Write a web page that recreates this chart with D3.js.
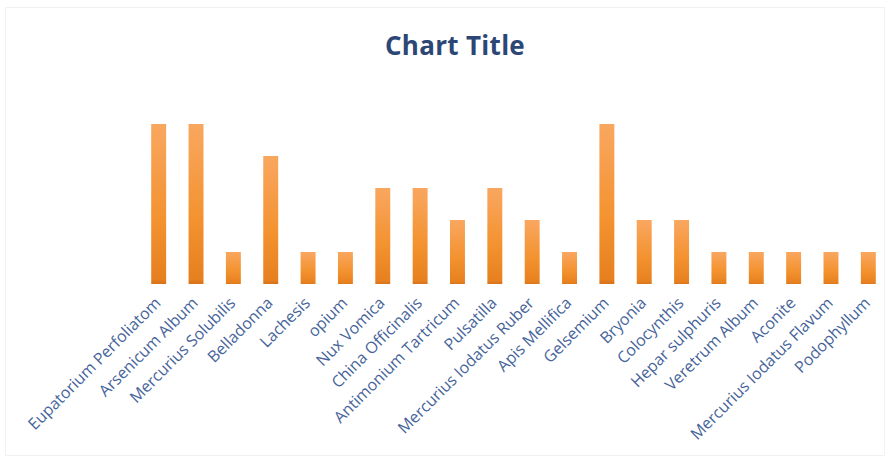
<!DOCTYPE html>
<html>
<head>
<meta charset="utf-8">
<script src="https://cdn.jsdelivr.net/npm/d3@7"></script>
<style>
  body { margin: 0; background: #fff; }
  .tick-label { font-family: "Open Sans", "Noto Sans", sans-serif; fill: #46649a; }
</style>
</head>
<body>
<div id="chart"></div>
<script>
// remedies and their counts
const remedies = [
    "Eupatorium Perfoliatom", "Arsenicum Album", "Mercurius Solubilis", "Belladonna",
    "Lachesis", "opium", "Nux Vomica", "China Officinalis", "Antimonium Tartricum",
    "Pulsatilla", "Mercurius Iodatus Ruber", "Apis Mellifica", "Gelsemium", "Bryonia",
    "Colocynthis", "Hepar sulphuris", "Veretrum Album", "Aconite",
    "Mercurius Iodatus Flavum", "Podophyllum"
];
const counts = [5, 5, 1, 4, 1, 1, 3, 3, 2, 3, 2, 1, 5, 2, 2, 1, 1, 1, 1, 1];
const chartTitle = "Chart Title";

const width = 887, height = 461;
const margin = {top: 124, right: 0, bottom: 177, left: 140};

const svg = d3.select("#chart")
    .append("svg")
    .attr("width", width)
    .attr("height", height);

// faint frame of the chart area
svg.append("rect")
    .attr("x", 5.5).attr("y", 7.5)
    .attr("width", 879).attr("height", 448)
    .attr("fill", "#fff")
    .attr("stroke", "#f2f2f2");

const defs = svg.append("defs");
const grad = defs.append("linearGradient")
    .attr("id", "barGrad")
    .attr("x1", 0).attr("y1", 0).attr("x2", 0).attr("y2", 1);
grad.append("stop").attr("offset", "0%").attr("stop-color", "#f9a760");
grad.append("stop").attr("offset", "60%").attr("stop-color", "#f3922f");
grad.append("stop").attr("offset", "97%").attr("stop-color", "#e7801f");
grad.append("stop").attr("offset", "100%").attr("stop-color", "#d5711a");

const x = d3.scaleBand()
    .domain(remedies)
    .range([margin.left, width - margin.right])
    .paddingInner(0.6)
    .paddingOuter(0.3);

const y = d3.scaleLinear()
    .domain([0, 5])
    .range([height - margin.bottom, margin.top]);

svg.append("text")
    .attr("x", 455)
    .attr("y", 55)
    .attr("text-anchor", "middle")
    .style("font-family", "'Open Sans', 'Noto Sans', sans-serif")
    .style("font-weight", "bold")
    .style("font-size", "26px")
    .style("letter-spacing", "0.3px")
    .style("fill", "#2c4776")
    .text(chartTitle);

svg.selectAll("rect.bar")
    .data(remedies)
    .join("rect")
    .attr("class", "bar")
    .attr("x", (d) => x(d))
    .attr("width", x.bandwidth())
    .attr("y", (d, i) => y(counts[i]))
    .attr("height", (d, i) => y(0) - y(counts[i]))
    .attr("fill", "url(#barGrad)");

// category axis, no line or ticks
const xG = svg.append("g")
    .attr("transform", `translate(0,${y(0)})`)
    .call(d3.axisBottom(x).tickSize(0).tickPadding(0));
xG.select(".domain").remove();
xG.selectAll("text")
    .attr("class", "tick-label")
    .style("font-size", "16px")
    .attr("dy", null)
    .attr("y", 0)
    .attr("text-anchor", "end")
    .attr("transform", "translate(3,20) rotate(-45)");
</script>
</body>
</html>
